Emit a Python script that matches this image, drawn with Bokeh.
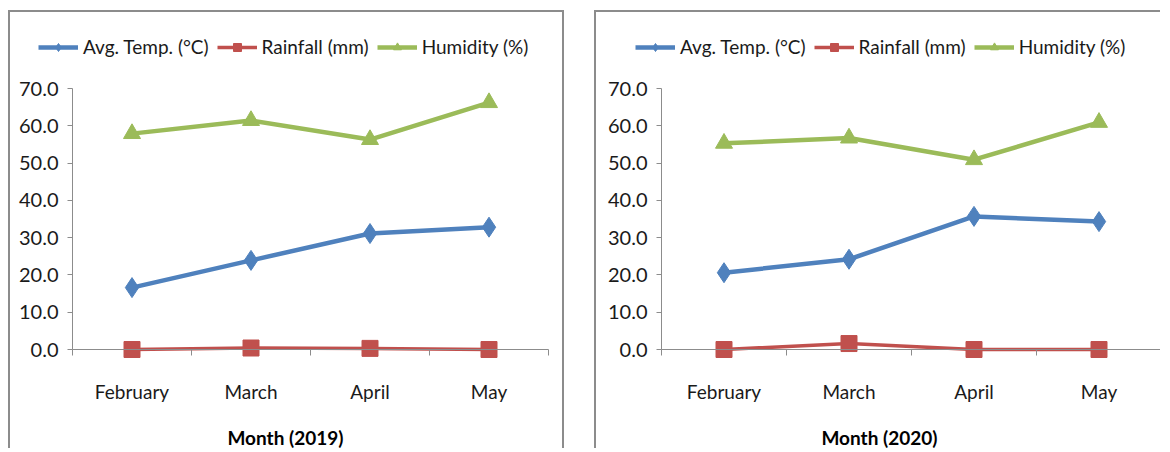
from bokeh.plotting import figure
from bokeh.layouts import row, column
from bokeh.models import FixedTicker, Legend, LegendItem, NumeralTickFormatter, Spacer, Label
from bokeh.embed import file_html
from bokeh.resources import INLINE

months = ["February", "March", "April", "May"]
temp_2019 = [16.6, 23.9, 31.1, 32.8]
rain_2019 = [0.0, 0.4, 0.3, 0.0]
hum_2019 = [57.9, 61.4, 56.3, 66.2]
temp_2020 = [20.6, 24.2, 35.7, 34.3]
rain_2020 = [0.0, 1.6, 0.0, 0.0]
hum_2020 = [55.3, 56.7, 50.9, 60.9]
y_ticks = [0, 10, 20, 30, 40, 50, 60, 70]
Y_MAX = 70

FONT = "Lato"
BLUE = "#4F81BD"
RED = "#C0504D"
GREEN = "#9BBB59"
GRAY = "#8c8c8c"
TXT = "#1a1a1a"

HEIGHT = 438
AXIS_Y = 337              # px from top of the figure to the value-0 line
PX_PER_UNIT = 261 / 70    # vertical scale: 70 units over 261 px


def make(temp, rain, hum, xlabel, width, axis_left, axis_right, legend_x, title_x, styles):
    n = len(months)
    unit = (axis_right - axis_left) / n
    x_start = -axis_left / unit
    x_end = n + (width - axis_right) / unit
    y_end = AXIS_Y / PX_PER_UNIT
    y_start = -(HEIGHT - AXIS_Y) / PX_PER_UNIT
    p = figure(width=width, height=HEIGHT, x_range=(x_start, x_end), y_range=(y_start, y_end),
               output_backend="svg", toolbar_location=None,
               min_border_left=0, min_border_right=0,
               min_border_top=0, min_border_bottom=0)
    p.xgrid.visible = False
    p.ygrid.visible = False
    p.outline_line_color = None
    p.styles = styles
    xs = [i + 0.5 for i in range(n)]

    l1 = p.line(xs, temp, line_color=BLUE, line_width=4.5)
    s1 = p.scatter(xs, temp, marker="diamond", size=20, fill_color=BLUE, line_color=BLUE)
    l2 = p.line(xs, rain, line_color=RED, line_width=3.5)
    s2 = p.scatter(xs, rain, marker="square", size=16, fill_color=RED, line_color=RED)
    l3 = p.line(xs, hum, line_color=GREEN, line_width=4.5)
    s3 = p.scatter(xs, hum, marker="triangle", size=17, fill_color=GREEN, line_color=GREEN)

    ya = p.yaxis[0]
    ya.fixed_location = 0
    ya.bounds = (0, Y_MAX)
    ya.ticker = FixedTicker(ticks=y_ticks)
    ya.formatter = NumeralTickFormatter(format="0.0")
    ya.axis_line_color = GRAY
    ya.major_tick_line_color = GRAY
    ya.major_tick_out = 5
    ya.major_tick_in = 0
    ya.minor_tick_line_color = None
    ya.major_label_text_font = FONT
    ya.major_label_text_font_size = "20px"
    ya.major_label_text_color = TXT
    ya.major_label_standoff = 9

    xa = p.xaxis[0]
    xa.fixed_location = 0
    xa.bounds = (0, n)
    xa.ticker = FixedTicker(ticks=xs, minor_ticks=list(range(n + 1)))
    xa.major_label_overrides = {x: m for x, m in zip(xs, months)}
    xa.axis_line_color = GRAY
    xa.major_tick_line_color = None
    xa.major_tick_out = 0
    xa.major_tick_in = 0
    xa.minor_tick_line_color = GRAY
    xa.minor_tick_out = 6
    xa.minor_tick_in = 0
    xa.major_label_text_font = FONT
    xa.major_label_text_font_size = "19px"
    xa.major_label_text_color = TXT
    xa.major_label_standoff = 24

    title = Label(text=xlabel, x=title_x, y=13, x_units="screen", y_units="screen",
                  text_align="center", text_baseline="middle", text_font=FONT,
                  text_font_size="19px", text_font_style="bold", text_color="#000000")
    p.add_layout(title)

    legend = Legend(items=[
        LegendItem(label="Avg. Temp. (°C)", renderers=[l1, s1]),
        LegendItem(label="Rainfall (mm)", renderers=[l2, s2]),
        LegendItem(label="Humidity (%)", renderers=[l3, s3]),
    ], orientation="horizontal", location=(legend_x, HEIGHT - 46), glyph_width=40, glyph_height=20,
        label_text_font=FONT, label_text_font_size="19px", label_text_color=TXT,
        spacing=8, label_standoff=5, padding=6, margin=0,
        border_line_color=None, background_fill_alpha=0)
    p.add_layout(legend)
    return p


p1 = make(temp_2019, rain_2019, hum_2019, "Month (2019)", 556, 62, 538, 28, 275,
          {"border-left": f"2px solid {GRAY}", "border-top": f"2px solid {GRAY}",
           "border-right": f"2px solid {GRAY}"})
p2 = make(temp_2020, rain_2020, hum_2020, "Month (2020)", 566, 65, 565, 39, 283,
          {"border-left": f"2px solid {GRAY}", "border-top": f"2px solid {GRAY}"})

layout = row(Spacer(width=8, height=10),
             column(Spacer(width=10, height=10), p1),
             Spacer(width=30, height=10),
             column(Spacer(width=10, height=10), p2))
layout.spacing = 0
open("out.html", "w").write(file_html(layout, INLINE))
